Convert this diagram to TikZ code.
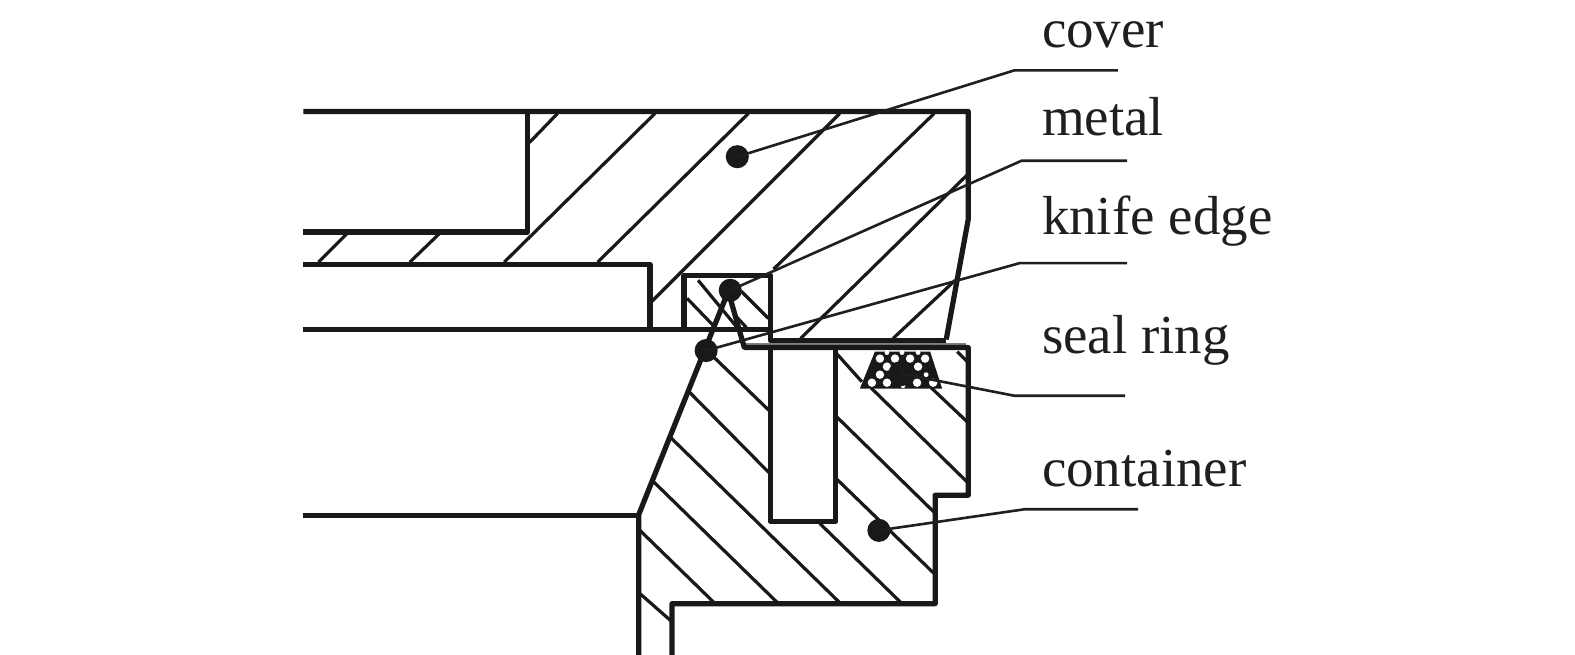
\documentclass[tikz,border=0pt]{standalone}
\usepackage{fontspec}
\setmainfont{Liberation Serif}
\tikzset{
  outline/.style={draw=black!90,line width=2.6pt,line join=round,line cap=butt},
  hatch/.style={draw=black!90,line width=1.6pt},
  leader/.style={draw=black!88,line width=1.3pt},
  blob/.style={circle,fill=black!90,inner sep=0pt,minimum size=11.5pt},
  lab/.style={anchor=base west,inner sep=0pt,text=black!88,font=\fontsize{27.35}{27.35}\selectfont},
  sealdot/.style={fill=white,draw=none},
}
\begin{document}
\begin{tikzpicture}[x=0.5pt,y=-0.5pt]
\useasboundingbox[fill=white] (0,0) rectangle (1568,652);
% hatching of the cover
\foreach \a/\b/\c/\d in {555/113/527/142, 652/113/502/261, 745/113/595/261, 836/113/649/300,
  930/113/770/268, 963/174/797/337, 951/279/889/337, 345/233/317/261, 437/233/408/261}
  \draw[hatch] (\a,\b) -- (\c,\d);
% hatching of the metal ring
\foreach \a/\b/\c/\d in {695/279/733/325, 684/297/712/326, 738/290/765/317, 730/312/743/326}
  \draw[hatch] (\a,\b) -- (\c,\d);
% hatching of the container
\foreach \a/\b/\c/\d in {709/354/766/409, 684/388/766/471, 666/434/836/600, 649/478/774/600,
  636/527/711/600, 636/590/669/619, 816/521/897/600, 832/476/931/572, 832/414/931/511,
  867/386/964/481, 832/351/858/380, 927/386/964/421, 953/350/964/361}
  \draw[hatch] (\a,\b) -- (\c,\d);
% cover outline
\draw[outline] (302,111) -- (964,111) -- (964,218) -- (942,338);
\draw[outline] (525,111) -- (525,231) -- (302,231);
\draw[outline] (302,263) -- (647,263) -- (647,328) ;
\draw[outline] (302,328) -- (767,328);
\draw[outline] (681,328) -- (681,274) -- (767,274) -- (767,339) -- (942,339);
% container outline
\draw[gray,line width=1.4pt] (742,342.5) -- (962,342.5);
\draw[outline] (636,652) -- (636,512) -- (725,290) -- (741,346) -- (964,346) -- (964,493)
  -- (931,493) -- (931,601) -- (669,601) -- (669,652);
\draw[outline] (302,513) -- (636,513);
\draw[outline] (767,346) -- (767,519) -- (832,519) -- (832,346);
% seal ring
\fill[black!90] (871,350) -- (926,350) -- (938,387) -- (856,387) -- cycle;
\foreach \p/\q in {876/357, 891/357, 906/357, 921/357, 883/365, 914/365, 876/373,
  868/381, 883/381, 913/381, 929/381}
  \fill[sealdot] (\p,\q) circle (2.1pt);
\foreach \p/\q in {883/351, 898/351, 914/351, 922/373, 899/384}
  \fill[sealdot] (\p,\q) circle (1.2pt);
% call-out dots
\node[blob] (dcover) at (734,156) {};
\node[blob] (dmetal) at (727,289) {};
\node[blob] (dknife) at (703,349) {};
\node[blob,minimum size=12.5pt] (dseal) at (897,372) {};
\node[blob] (dcont) at (875,528) {};
% call-out ends
\coordinate (c1) at (1010,70);  \coordinate (c2) at (1113,70);
\coordinate (m1) at (1017,160); \coordinate (m2) at (1122,160);
\coordinate (k1) at (1015,262); \coordinate (k2) at (1122,262);
\coordinate (s1) at (1010,394); \coordinate (s2) at (1120,394);
\coordinate (o1) at (1020,507); \coordinate (o2) at (1133,507);
\draw[leader] (dcover.center) -- (c1) -- (c2);
\draw[leader] (dmetal.center) -- (m1) -- (m2);
\draw[leader] (dknife.center) -- (k1) -- (k2);
\draw[leader] (dseal.center) -- (s1) -- (s2);
\draw[leader] (dcont.center) -- (o1) -- (o2);
% labels
\node[lab] (tcover) at (1037,47) {cover};
\node[lab] (tmetal) at (1037,135) {metal};
\node[lab] (tknife) at (1037,233) {knife edge};
\node[lab] (tseal) at (1037,352) {seal ring};
\node[lab] (tcont) at (1037,484) {container};
\end{tikzpicture}
\end{document}
